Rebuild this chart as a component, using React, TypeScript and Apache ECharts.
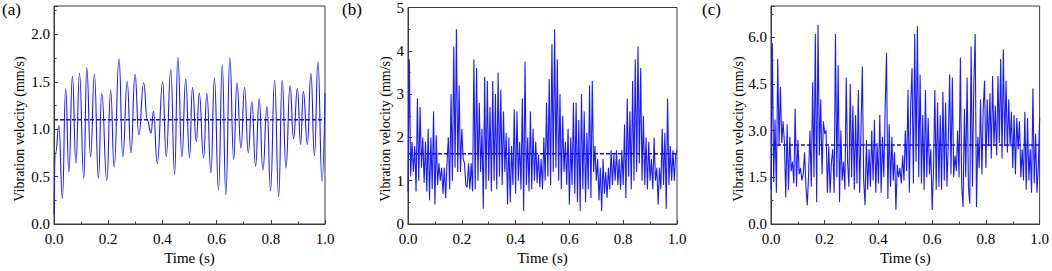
import React, { useEffect, useRef } from "react";
import * as echarts from "echarts";

// ---------- data ----------
// Panel (a): extrema of the smooth oscillation (time s, velocity mm/s)
const timeA = [
  0.0, 0.006, 0.018, 0.031, 0.043, 0.055, 0.068, 0.081, 0.094, 0.11, 0.121, 0.135, 0.149, 0.164, 0.176, 0.195,
  0.209, 0.222, 0.24, 0.254, 0.27, 0.284, 0.299, 0.313, 0.331, 0.344, 0.358, 0.367, 0.381, 0.401, 0.414, 0.431,
  0.445, 0.457, 0.472, 0.486, 0.5, 0.511, 0.525, 0.536, 0.552, 0.564, 0.579, 0.592, 0.607, 0.621, 0.634, 0.649,
  0.663, 0.675, 0.69, 0.703, 0.717, 0.73, 0.744, 0.757, 0.771, 0.786, 0.799, 0.814, 0.829, 0.842, 0.856, 0.871,
  0.884, 0.898, 0.91, 0.92, 0.935, 0.948, 0.961, 0.974, 0.989, 1.0,
];
const velA = [
  0.1, 0.75, 1.04, 0.27, 1.43, 0.55, 1.56, 0.64, 1.59, 0.48, 1.65, 0.71, 1.58, 0.48, 1.38, 0.46,
  1.41, 0.6, 1.74, 0.71, 1.5, 0.75, 1.58, 0.94, 1.49, 1.1, 0.96, 1.19, 0.64, 1.5, 0.71, 1.63,
  0.52, 1.76, 0.71, 1.53, 0.7, 1.44, 0.87, 1.38, 0.7, 1.38, 0.54, 1.54, 0.36, 1.68, 0.31, 1.75,
  0.68, 1.49, 0.8, 1.44, 0.75, 1.29, 0.61, 1.32, 0.57, 1.24, 0.35, 1.52, 0.29, 1.52, 0.59, 1.46,
  0.9, 1.43, 0.84, 1.4, 0.84, 1.59, 0.72, 1.71, 0.45, 1.38,
];

// Panels (b) and (c): samples every 0.005 s from 0 to 1 s
const sampleStep = 0.005;
const velB = [
  0.75, 3.8, 1.1, 1.9, 1.2, 1.8, 0.75, 2.9, 1.0, 2.7, 1.3, 2.0, 0.95, 1.9, 0.75, 2.2,
  0.55, 2.0, 0.8, 2.6, 0.45, 2.05, 0.9, 1.4, 1.0, 1.3, 0.7, 1.3, 0.6, 1.4, 2.0, 0.8,
  3.0, 1.0, 4.1, 1.3, 4.5, 1.2, 3.2, 1.2, 2.2, 1.5, 1.4, 0.9, 0.85, 1.4, 0.8, 1.4,
  0.75, 3.8, 0.8, 3.6, 1.0, 2.8, 1.2, 2.2, 0.35, 3.4, 0.8, 3.3, 1.0, 2.7, 0.75, 3.3,
  1.0, 3.0, 0.8, 3.5, 1.1, 3.1, 0.9, 2.6, 1.2, 2.1, 0.45, 2.0, 0.5, 1.8, 0.9, 2.65,
  0.7, 2.6, 1.0, 1.9, 0.8, 2.9, 0.3, 3.75, 0.9, 2.0, 0.75, 2.6, 0.8, 2.2, 1.0, 1.9,
  0.95, 1.6, 0.85, 1.5, 0.8, 2.0, 1.0, 2.8, 1.1, 3.35, 0.9, 4.15, 1.2, 4.5, 1.3, 3.8,
  1.0, 3.0, 0.8, 2.5, 1.2, 1.9, 0.9, 2.2, 0.45, 2.0, 0.9, 2.8, 0.7, 2.8, 0.5, 2.4,
  0.3, 3.0, 0.8, 2.6, 0.5, 2.1, 0.8, 3.2, 0.6, 3.3, 1.2, 1.8, 1.0, 1.5, 0.55, 1.3,
  0.3, 1.5, 0.7, 1.2, 0.6, 1.3, 0.8, 1.7, 0.9, 1.6, 1.0, 1.7, 0.9, 1.5, 0.8, 1.7,
  0.9, 2.3, 0.6, 2.9, 1.1, 2.6, 0.8, 3.3, 1.0, 3.8, 1.2, 4.1, 1.4, 3.6, 1.0, 2.5,
  0.9, 2.0, 0.8, 1.9, 1.0, 1.5, 0.8, 2.0, 1.0, 1.3, 0.45, 1.3, 0.8, 2.2, 0.9, 2.1,
  0.35, 2.9, 0.9, 1.8, 1.0, 1.7, 1.0, 1.6, 1.7,
];
const velC = [
  1.1, 5.8, 1.35, 3.35, 1.0, 5.3, 2.5, 4.4, 2.6, 3.3, 2.6, 0.85, 3.2, 1.1, 2.8, 1.7,
  2.0, 1.3, 3.7, 1.2, 2.7, 1.6, 1.8, 1.4, 1.6, 2.3, 1.2, 0.6, 1.6, 3.0, 1.2, 4.55,
  1.5, 6.1, 0.7, 6.4, 2.2, 4.0, 1.6, 3.3, 2.9, 3.0, 1.0, 2.5, 1.0, 2.0, 2.4, 1.0,
  6.1, 1.5, 5.1, 0.7, 3.0, 1.4, 2.0, 1.1, 4.7, 2.0, 1.2, 4.5, 1.5, 3.8, 1.1, 3.5,
  1.3, 4.3, 1.0, 3.0, 5.05, 1.4, 0.6, 2.7, 1.1, 2.4, 1.2, 3.0, 1.4, 3.35, 1.0, 2.6,
  1.3, 3.5, 1.0, 2.8, 1.5, 3.7, 5.5, 0.8, 3.2, 1.2, 2.8, 1.4, 2.3, 0.45, 1.9, 1.5,
  1.8, 1.3, 2.2, 1.4, 3.0, 1.7, 4.3, 1.0, 3.8, 5.0, 1.3, 6.1, 2.0, 6.35, 1.5, 4.8,
  1.3, 3.5, 1.1, 4.3, 1.5, 3.4, 1.6, 2.4, 0.45, 1.8, 4.3, 1.1, 3.9, 1.2, 3.5, 1.1,
  4.25, 1.4, 3.9, 1.2, 2.6, 4.8, 1.6, 4.7, 1.5, 2.2, 1.7, 3.0, 1.5, 5.35, 1.2, 0.55,
  3.7, 1.5, 4.7, 1.2, 0.65, 5.7, 1.2, 4.5, 6.1, 0.55, 2.8, 1.8, 4.0, 1.6, 3.7, 4.6,
  1.8, 4.0, 2.5, 4.2, 2.1, 4.75, 2.5, 3.8, 2.2, 4.75, 2.6, 5.3, 2.1, 5.6, 2.5, 4.6,
  2.3, 4.0, 2.5, 3.6, 1.8, 3.5, 1.6, 3.4, 2.4, 3.3, 1.5, 2.4, 1.4, 3.6, 1.1, 3.4,
  1.4, 2.4, 1.0, 4.35, 1.3, 2.9, 1.0, 1.8, 3.4,
];

const meanA = 1.1;
const meanB = 1.62;
const meanC = 2.54;

const panelLabels = ["(a)", "(b)", "(c)"];
const xName = "Time (s)";
const yName = "Vibration velocity (mm/s)";

// ---------- chart ----------
const FONT = "'Liberation Serif', 'Times New Roman', serif";
const LINE_COLOR = "#1a1aff";
const AXIS_COLOR = "#3a3a3a";

export default function App() {
  const ref = useRef<HTMLDivElement>(null);

  useEffect(() => {
    document.body.style.margin = "0";
    if (!ref.current) return;
    const chart = echarts.init(ref.current, undefined, { renderer: "svg" });

    const grids = [
      { left: 54, top: 6, width: 271, height: 218 },
      { left: 408, top: 6, width: 269, height: 218 },
      { left: 771, top: 6, width: 270, height: 218 },
    ];
    const yConf = [
      { max: 2.3, interval: 0.5, dec: 1, showMax: false },
      { max: 5, interval: 1, dec: 0, showMax: true },
      { max: 7, interval: 1.5, dec: 1, showMax: false },
    ];
    const yNameX = [19.5, 385, 738.5];

    const timesBC = velB.map((_, i) => +(i * sampleStep).toFixed(3));
    const seriesData = [
      timeA.map((t, i) => [t, velA[i]]),
      timesBC.map((t, i) => [t, velB[i]]),
      velC.map((v, i) => [+(i * sampleStep).toFixed(3), v]),
    ];
    const means = [meanA, meanB, meanC];

    const option: any = {
      animation: false,
      backgroundColor: "#fff",
      grid: grids.map((g) => ({
        ...g,
        show: true,
        borderColor: AXIS_COLOR,
        borderWidth: 1,
        backgroundColor: "transparent",
      })),
      xAxis: grids.map((_, i) => ({
        type: "value",
        gridIndex: i,
        min: 0,
        max: 1,
        interval: 0.2,
        name: xName,
        nameLocation: "middle",
        nameGap: 25,
        nameTextStyle: { fontFamily: FONT, fontSize: 15, color: "#000" },
        axisLine: { show: true, lineStyle: { color: AXIS_COLOR, width: 1 } },
        axisTick: { show: true, inside: true, length: 4, lineStyle: { color: AXIS_COLOR } },
        minorTick: { show: true, splitNumber: 2, length: 2.5, lineStyle: { color: AXIS_COLOR } },
        splitLine: { show: false },
        axisLabel: {
          fontFamily: FONT,
          fontSize: 15,
          lineHeight: 13,
          color: "#000",
          margin: 8,
          formatter: (v: number) => v.toFixed(1),
        },
      })),
      yAxis: grids.map((_, i) => ({
        type: "value",
        gridIndex: i,
        min: 0,
        max: yConf[i].max,
        interval: yConf[i].interval,
        axisLine: { show: true, lineStyle: { color: AXIS_COLOR, width: 1 } },
        axisTick: { show: true, inside: true, length: 4, lineStyle: { color: AXIS_COLOR } },
        minorTick: { show: true, splitNumber: 2, length: 2.5, lineStyle: { color: AXIS_COLOR } },
        splitLine: { show: false },
        axisLabel: {
          fontFamily: FONT,
          fontSize: 15,
          lineHeight: 12,
          padding: [0, 0, 3, 0],
          color: "#000",
          margin: 4,
          showMaxLabel: yConf[i].showMax,
          formatter: (v: number) => v.toFixed(yConf[i].dec),
        },
      })),
      series: [
        ...seriesData.map((d, i) => ({
          type: "line",
          xAxisIndex: i,
          yAxisIndex: i,
          data: d,
          showSymbol: false,
          smooth: i === 0 ? 0.5 : false,
          smoothMonotone: i === 0 ? "x" : undefined,
          lineStyle: { color: LINE_COLOR, width: 1.1 },
          itemStyle: { color: LINE_COLOR },
          silent: true,
          z: 2,
        })),
        ...means.map((m, i) => ({
          type: "line",
          xAxisIndex: i,
          yAxisIndex: i,
          data: [
            [0, m],
            [1, m],
          ],
          showSymbol: false,
          lineStyle: { color: "#1010d0", width: 1.5, type: [4, 2] },
          silent: true,
          z: 3,
        })),
      ],
      graphic: [
        ...panelLabels.map((t, i) => ({
          type: "text",
          x: [2, 342, 702][i],
          y: 1,
          style: { text: t, font: `17px ${FONT}`, fill: "#000" },
        })),
        ...yNameX.map((x) => ({
          type: "text",
          x,
          y: 129,
          rotation: Math.PI / 2,
          style: {
            text: yName,
            font: `14px ${FONT}`,
            fill: "#000",
            align: "center",
            verticalAlign: "middle",
            textAlign: "center",
            textVerticalAlign: "middle",
          },
        })),
      ],
    };

    chart.setOption(option);
    return () => chart.dispose();
  }, []);

  return <div ref={ref} style={{ width: 1052, height: 271 }} />;
}
